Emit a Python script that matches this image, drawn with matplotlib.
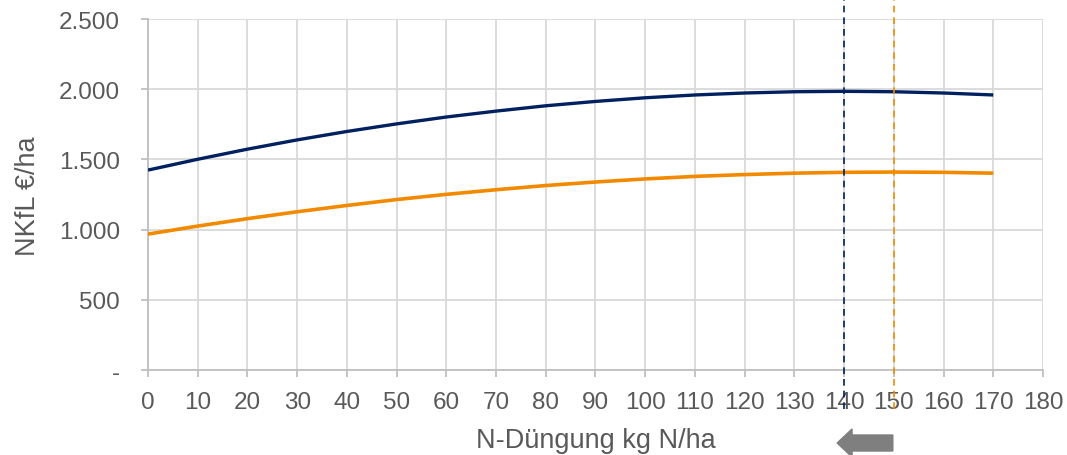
import matplotlib
matplotlib.use('Agg')
import matplotlib.pyplot as plt
from matplotlib.patches import FancyArrow
from matplotlib.ticker import FuncFormatter

# N fertilisation (kg N/ha) and net return (EUR/ha)
n_dose = [0, 10, 20, 30, 40, 50, 60, 70, 80, 90, 100, 110, 120, 130, 140, 150, 160, 170]
nkfl_navy = [1424, 1501, 1573, 1639, 1699, 1753, 1802, 1844, 1882, 1913, 1939, 1959,
             1973, 1982, 1985, 1982, 1973, 1959]
nkfl_orange = [968, 1025, 1078, 1127, 1172, 1214, 1251, 1284, 1314, 1339, 1361, 1379,
               1392, 1402, 1408, 1410, 1408, 1402]
opt_navy = 140
opt_orange = 150
x_ticks = list(range(0, 181, 10))
y_ticks = [0, 500, 1000, 1500, 2000, 2500]

NAVY = '#002060'
ORANGE = '#f28a00'
TXT = '#595959'
GRID = '#d9d9d9'

plt.rcParams['font.family'] = ['Liberation Sans', 'DejaVu Sans']

fig = plt.figure(figsize=(10.67, 4.56), dpi=100)
ax = fig.add_axes([0.1387, 0.1864, 0.8388, 0.7697])

ax.plot(n_dose, nkfl_navy, color=NAVY, lw=2.4, solid_capstyle='butt', zorder=3)
ax.plot(n_dose, nkfl_orange, color=ORANGE, lw=2.6, solid_capstyle='butt', zorder=3)

# optimum markers, running past the plot area
ax.plot([opt_navy, opt_navy], [-280, 2650], color=NAVY, lw=1.2, ls=(0, (4, 3)),
        clip_on=False, zorder=4)
ax.plot([opt_orange, opt_orange], [-280, 2650], color=ORANGE, lw=1.2, ls=(0, (4, 3)),
        clip_on=False, zorder=4)

ax.set_xlim(0, 180)
ax.set_ylim(0, 2500)
ax.set_xticks(x_ticks)
ax.set_yticks(y_ticks)
ax.yaxis.set_major_formatter(FuncFormatter(
    lambda v, p: '-' if v == 0 else f'{int(v):,}'.replace(',', '.')))

ax.grid(True, color=GRID, lw=1.3)
ax.set_axisbelow(True)
for s in ['top', 'right']:
    ax.spines[s].set_visible(False)
for s in ['left', 'bottom']:
    ax.spines[s].set_color('#bfbfbf')
    ax.spines[s].set_linewidth(1.3)
ax.tick_params(axis='both', colors='#bfbfbf', labelcolor=TXT, labelsize=17.5,
               length=5, width=1.3)
ax.tick_params(axis='x', pad=10)
ax.tick_params(axis='y', pad=15)

fig.text(0.026, 0.570, 'NKfL €/ha', rotation=90, ha='center', va='center',
         fontsize=19.5, color=TXT)
fig.text(0.558, 0.033, 'N-Düngung kg N/ha', ha='center', va='center',
         fontsize=19.5, color=TXT)

# gray arrow under the axis pointing from 150 towards 140
arrow = FancyArrow(149.8, -520, -11.2, 0, width=114, head_width=200, head_length=3.0,
                   length_includes_head=True, color='#7f7f7f', clip_on=False, zorder=5)
ax.add_patch(arrow)

fig.savefig('out.png', dpi=100)
